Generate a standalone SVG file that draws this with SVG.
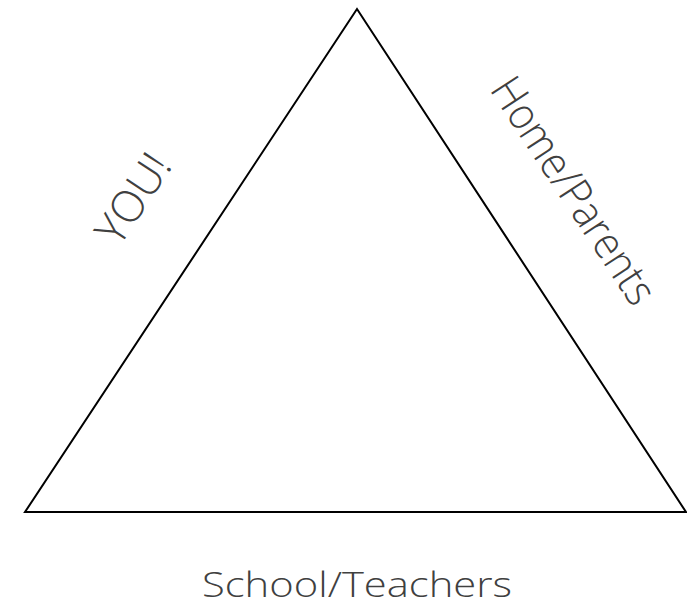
<svg xmlns="http://www.w3.org/2000/svg" width="687" height="610" viewBox="0 0 687 610">
<style>
.lbl{font-family:"Open Sans","Liberation Sans",sans-serif;font-weight:300;fill:#404040;}
.edge{fill:none;stroke:#000;stroke-width:2;stroke-linejoin:miter;}
</style>
<rect width="687" height="610" fill="#fff"/>
<g id="triangle">
<polygon class="edge" points="357,9 25,512 686,512"/>
</g>
<g id="label-you">
<text class="lbl" font-size="44" text-anchor="middle" transform="translate(146,207) rotate(-56.7)" x="0" y="0" textLength="98" lengthAdjust="spacingAndGlyphs">YOU!</text>
</g>
<g id="label-home">
<text class="lbl" font-size="44" text-anchor="middle" transform="translate(561,199) rotate(56.7)" x="0" y="0" textLength="262" lengthAdjust="spacingAndGlyphs">Home/Parents</text>
</g>
<g id="label-school">
<text class="lbl" font-size="35" text-anchor="middle" x="357" y="597" textLength="310" lengthAdjust="spacingAndGlyphs">School/Teachers</text>
</g>
</svg>
